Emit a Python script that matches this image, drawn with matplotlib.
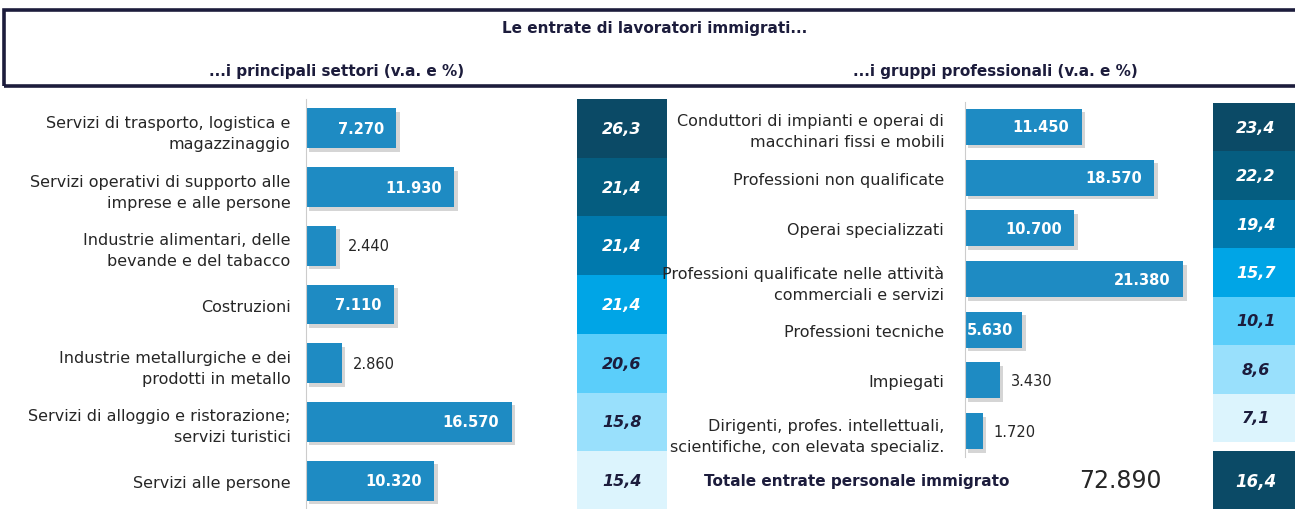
import matplotlib
matplotlib.use("Agg")
import matplotlib.pyplot as plt
import matplotlib.patheffects as pe
from matplotlib.patches import Rectangle

plt.rcParams['font.family'] = ['Liberation Sans Narrow', 'DejaVu Sans']

# dati
settori = ["Servizi di trasporto, logistica e\nmagazzinaggio",
           "Servizi operativi di supporto alle\nimprese e alle persone",
           "Industrie alimentari, delle\nbevande e del tabacco",
           "Costruzioni",
           "Industrie metallurgiche e dei\nprodotti in metallo",
           "Servizi di alloggio e ristorazione;\nservizi turistici",
           "Servizi alle persone"]
settori_va = [7270, 11930, 2440, 7110, 2860, 16570, 10320]
settori_pct = [26.3, 21.4, 21.4, 21.4, 20.6, 15.8, 15.4]

gruppi = ["Conduttori di impianti e operai di\nmacchinari fissi e mobili",
          "Professioni non qualificate",
          "Operai specializzati",
          "Professioni qualificate nelle attività\ncommerciali e servizi",
          "Professioni tecniche",
          "Impiegati",
          "Dirigenti, profes. intellettuali,\nscientifiche, con elevata specializ."]
gruppi_va = [11450, 18570, 10700, 21380, 5630, 3430, 1720]
gruppi_pct = [23.4, 22.2, 19.4, 15.7, 10.1, 8.6, 7.1]

totale_label = "Totale entrate personale immigrato"
totale_va = 72890
totale_pct = 16.4

titolo = "Le entrate di lavoratori immigrati..."
sub_sx = "...i principali settori (v.a. e %)"
sub_dx = "...i gruppi professionali (v.a. e %)"

bar_col = "#1e8bc3"
pct_cols = ["#0b4a66", "#055d80", "#0079ad", "#00a5e6", "#5bcefa", "#99e0fc", "#dcf4fd"]
navy = "#1c1c3c"
txt_col = "#262626"

W, H = 1295, 510
fig = plt.figure(figsize=(W / 100, H / 100), dpi=100)


def px_axes(x0, y0, x1, y1):
    return fig.add_axes([x0 / W, 1 - y1 / H, (x1 - x0) / W, (y1 - y0) / H])


def fmt_va(v):
    return f"{v:,}".replace(",", ".")


def fmt_pct(v):
    return f"{v:.1f}".replace(".", ",")


# cornice del titolo
fig.patches.append(Rectangle((4 / W, 1 - 87 / H), 1.2, 76 / H, transform=fig.transFigure,
                             fill=False, edgecolor=navy, lw=2.6, clip_on=False))
fig.text(655 / W, 1 - 28 / H, titolo, ha='center', va='center', fontsize=11,
         fontweight='bold', color=navy)
fig.text(337 / W, 1 - 72 / H, sub_sx, ha='center', va='center', fontsize=11,
         fontweight='bold', color=navy)
fig.text(995 / W, 1 - 72 / H, sub_dx, ha='center', va='center', fontsize=11,
         fontweight='bold', color=navy)

shadow = [pe.SimplePatchShadow(offset=(2.5, -2.5), shadow_rgbFace='#888888', alpha=0.35), pe.Normal()]


def bar_panel(ax, labels, values, scale, height, pad):
    y = list(range(len(values)))
    bars = ax.barh(y, values, height=height, color=bar_col)
    for b in bars:
        b.set_path_effects(shadow)
    ax.set_ylim(len(values) - 0.5, -0.5)
    ax.set_xlim(0, scale)
    ax.set_yticks(y, labels, fontsize=11.5, color=txt_col, multialignment='right')
    for lbl in ax.get_yticklabels():
        lbl.set_linespacing(1.5)
    ax.tick_params(axis='y', length=0, pad=pad)
    ax.set_xticks([])
    for s in ['top', 'right', 'bottom']:
        ax.spines[s].set_visible(False)
    ax.spines['left'].set_color('#cccccc')
    ax.patch.set_alpha(0)
    for yi, v in zip(y, values):
        if v > 7000:
            ax.annotate(fmt_va(v), (v, yi), xytext=(-9, 0), textcoords='offset points',
                        ha='right', va='center', fontsize=10.5, color='white', fontweight='bold')
        elif v > 5000:
            ax.annotate(fmt_va(v), (0, yi), xytext=(1, 0), textcoords='offset points',
                        ha='left', va='center', fontsize=10.5, color='white', fontweight='bold')
        else:
            ax.annotate(fmt_va(v), (v, yi), xytext=(8, 0), textcoords='offset points',
                        ha='left', va='center', fontsize=10.5, color=txt_col)


def pct_panel(ax, values, colors):
    y = list(range(len(values)))
    ax.barh(y, [1] * len(values), height=1.0, left=0, color=colors)
    ax.set_ylim(len(values) - 0.5, -0.5)
    ax.set_xlim(0, 1)
    ax.axis('off')
    for i, (yi, v) in enumerate(zip(y, values)):
        c = 'white' if i < 4 else navy
        ax.text(0.5, yi, fmt_pct(v), ha='center', va='center', fontsize=11.5,
                fontstyle='italic', fontweight='bold', color=c)


# pannello sinistro
ax1 = px_axes(306, 100, 575, 511)
bar_panel(ax1, settori, settori_va, 269 * 80.5, 0.68, 11)
axp1 = px_axes(577, 100, 667, 511)
pct_panel(axp1, settori_pct, pct_cols)

# pannello destro
ax2 = px_axes(965, 102.6, 1205, 457.5)
bar_panel(ax2, gruppi, gruppi_va, 240 * 98, 0.71, 15)
axp2 = px_axes(1213, 104, 1299, 443)
pct_panel(axp2, gruppi_pct, pct_cols)

# totale
axt = px_axes(1213, 452, 1299, 512)
axt.barh([0], [1], height=1.0, color=pct_cols[0])
axt.set_xlim(0, 1)
axt.set_ylim(-0.5, 0.5)
axt.axis('off')
axt.text(0.5, 0, fmt_pct(totale_pct), ha='center', va='center', fontsize=12,
         fontstyle='italic', fontweight='bold', color='white')
fig.text(857 / W, 1 - 482 / H, totale_label, ha='center', va='center', fontsize=11,
         fontweight='bold', color=navy)
fig.text(1120 / W, 1 - 481 / H, fmt_va(totale_va), ha='center', va='center', fontsize=17,
         color=txt_col)

fig.savefig("out.png", dpi=100)
